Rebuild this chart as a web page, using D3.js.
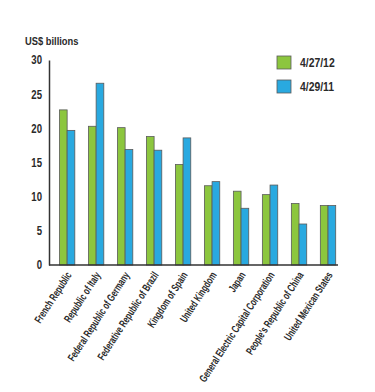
<!DOCTYPE html>
<html>
<head>
<meta charset="utf-8">
<script src="https://cdn.jsdelivr.net/npm/d3@7"></script>
<style>
  body { margin: 0; background: #fff; }
  svg text { font-family: "Liberation Sans Narrow", "Liberation Sans", sans-serif; font-weight: bold; fill: #2a2a2a; }
</style>
</head>
<body>
<div id="chart"></div>
<script>
const categories = [
    'French Republic', 'Republic of Italy', 'Federal Republic of Germany',
    'Federative Republic of Brazil', 'Kingdom of Spain', 'United Kingdom',
    'Japan', 'General Electric Capital Corporation', "People's Republic of China",
    'United Mexican States'
];
const series2012 = [22.7, 20.3, 20.1, 18.8, 14.7, 11.6, 10.8, 10.3, 9.0, 8.7];
const series2011 = [19.7, 26.6, 16.9, 16.8, 18.6, 12.2, 8.3, 11.7, 6.0, 8.7];
const seriesNames = ['4/27/12', '4/29/11'];
const yTicks = [0, 5, 10, 15, 20, 25, 30];

const colors = ['#8cc63e', '#29a9e0'];
const width = 375, height = 392;

const svg = d3.select('#chart')
    .append('svg')
    .attr('width', width)
    .attr('height', height);

const x = d3.scaleBand()
    .domain(categories)
    .range([49, 338])
    .paddingInner(0.47)
    .paddingOuter(0.22)
    .align(0.82);

const y = d3.scaleLinear()
    .domain([0, 30])
    .range([265, 60]);

const sub = d3.scaleBand()
    .domain([0, 1])
    .range([0, x.bandwidth()]);

// bars
const groups = svg.append('g')
    .selectAll('g')
    .data(categories)
    .join('g')
    .attr('transform', d => `translate(${x(d)},0)`);

groups.selectAll('rect')
    .data((d, i) => [series2012[i], series2011[i]])
    .join('rect')
    .attr('x', (d, j) => sub(j))
    .attr('y', d => y(d))
    .attr('width', sub.bandwidth())
    .attr('height', d => y(0) - y(d))
    .attr('fill', (d, j) => colors[j])
    .attr('stroke', '#5a5a5a')
    .attr('stroke-width', 0.8);

// y axis
const yAxis = svg.append('g')
    .attr('transform', 'translate(49,0)')
    .call(d3.axisLeft(y).tickValues(yTicks).tickSize(0).tickPadding(6));
yAxis.select('.domain').attr('stroke', '#333').attr('stroke-width', 1.5);
yAxis.selectAll('text')
    .style('font-size', '12px')
    .attr('transform', 'scale(0.8,1)')
    .attr('x', -7 / 0.8);

// baseline
svg.append('line')
    .attr('x1', 49).attr('x2', 338)
    .attr('y1', y(0)).attr('y2', y(0))
    .attr('stroke', '#333')
    .attr('stroke-width', 1.5);

// x labels
svg.append('g')
    .selectAll('text')
    .data(categories)
    .join('text')
    .attr('text-anchor', 'end')
    .style('font-size', '11px')
    .attr('transform', d => `translate(${x(d) + x.bandwidth() / 2 + 5},${y(0) + 10}) rotate(-57) scale(0.68,1)`)
    .text(d => d);

// unit label
svg.append('text')
    .attr('transform', 'translate(25,45) scale(0.85,1)')
    .style('font-size', '11px')
    .text('US$ billions');

// legend
const legend = svg.append('g')
    .attr('transform', 'translate(277,56)');

seriesNames.forEach((name, i) => {
    const item = legend.append('g')
        .attr('transform', `translate(0,${i * 24})`);
    item.append('rect')
        .attr('width', 14)
        .attr('height', 13)
        .attr('fill', colors[i])
        .attr('stroke', '#5a5a5a')
        .attr('stroke-width', 0.8);
    item.append('text')
        .attr('transform', 'translate(23,11) scale(0.8,1)')
        .style('font-size', '13px')
        .text(name);
});
</script>
</body>
</html>
